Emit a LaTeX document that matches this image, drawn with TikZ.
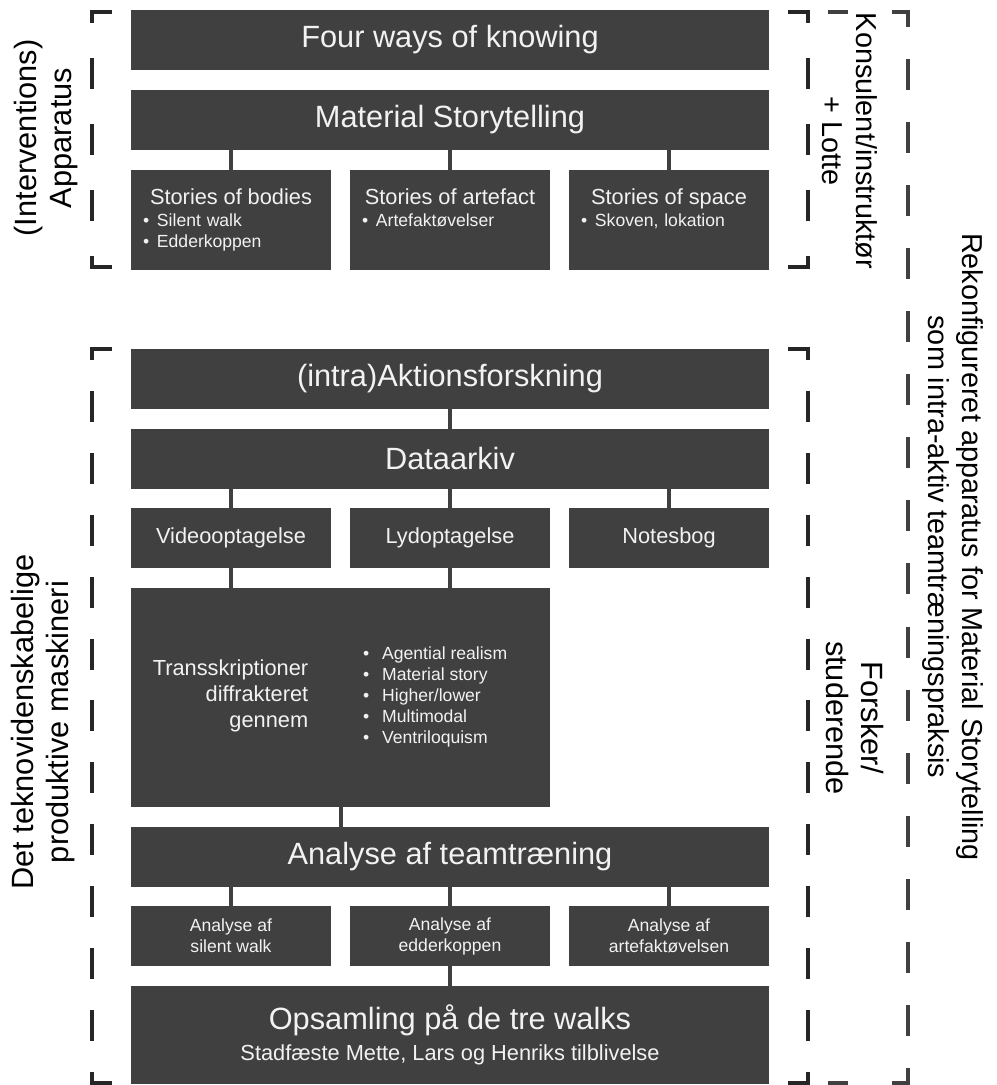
\documentclass[tikz,border=0pt]{standalone}
\usepackage{fontspec}
\setmainfont{Liberation Sans}
\definecolor{boxgrey}{HTML}{404040}
\definecolor{boxtext}{HTML}{F2F2F2}
\definecolor{markgrey}{HTML}{262626}
\newcommand{\bigtxt}{\fontsize{17.5}{20}\selectfont}
\newcommand{\sidetxt}{\fontsize{16.4}{19.5}\selectfont}
\newcommand{\midtxt}{\fontsize{12.4}{14.8}\selectfont}
\newcommand{\smtxt}{\fontsize{10}{12}\selectfont}
\newcommand{\itm}[1]{\makebox[2.8mm][l]{\textbullet}#1}
\newcommand{\ditm}[1]{\makebox[3.8mm][l]{\textbullet}#1}

\begin{document}
\begin{tikzpicture}
  [x=0.2mm,y=-0.2mm,
   box/.style={fill=boxgrey,text=boxtext,inner sep=0pt,align=center},
   wide/.style={box,minimum width=127.6mm,minimum height=12mm,font=\bigtxt},
   small/.style={box,minimum width=40mm,minimum height=12mm},
   story/.style={box,align=left,text width=35.2mm,inner xsep=2.4mm,
                 text height=6.8mm,text depth=13.2mm},
   side/.style={align=center,font=\bigtxt,inner sep=0pt},
   link/.style={draw=boxgrey,line width=0.8mm},
   bracket/.style={draw=markgrey,line width=0.8mm,dash pattern=on 6.2mm off #1}]
  \useasboundingbox (0,0) rectangle (997,1085);

  % upper part: interventions
  \node[wide] (four) at (450,40)  {Four ways of knowing};
  \node[wide] (mat)  at (450,120) {Material Storytelling};
  \node[story] (bodies) at (231,220)
    {{\centering\midtxt Stories of bodies\par}\vspace{1pt}\smtxt
     \itm{Silent walk}\par\itm{Edderkoppen}};
  \node[story] (artefact) at (450,220)
    {{\centering\midtxt Stories of artefact\par}\vspace{1pt}\smtxt
     \itm{Artefaktøvelser}};
  \node[story] (space) at (669,220)
    {{\centering\midtxt Stories of space\par}\vspace{1pt}\smtxt
     \itm{Skoven, lokation}};
\foreach \kid in {bodies,artefact,space}
    \draw[link] (\kid.north) -- (\kid.north |- mat.south);

  % lower part: research
  \node[wide] (aktion) at (450,379) {(intra)Aktionsforskning};
  \node[wide] (data)   at (450,459) {Dataarkiv};
  \node[small,font=\midtxt] (video) at (231,538) {Videooptagelse};
  \node[small,font=\midtxt] (lyd)   at (450,538) {Lydoptagelse};
  \node[small,font=\midtxt] (notes) at (669,538) {Notesbog};
  \node[box,minimum width=83.8mm,minimum height=43.8mm] (trans) at (340.5,697.5)
    {{\midtxt\begin{tabular}{@{}r@{}}Transskriptioner\\diffrakteret\\gennem\end{tabular}}%
     \hspace{11mm}%
     {\smtxt\begin{tabular}{@{}l@{}}\ditm{Agential realism}\\\ditm{Material story}\\
       \ditm{Higher/lower}\\\ditm{Multimodal}\\\ditm{Ventriloquism}\end{tabular}}%
     \hspace{4.2mm}};
  \node[wide] (analyse) at (450,857) {Analyse af teamtræning};
  \node[small,font=\smtxt] (asilent) at (231,936) {Analyse af\\silent walk};
  \node[small,font=\smtxt] (aedder)  at (450,936) {Analyse af\\edderkoppen};
  \node[small,font=\smtxt] (aartef)  at (669,936) {Analyse af\\artefaktøvelsen};
  \node[box,minimum width=127.6mm,minimum height=19.6mm] (opsaml) at (450,1035)
    {{\bigtxt Opsamling på de tre walks}\\[1.5mm]
     {\midtxt Stadfæste Mette, Lars og Henriks tilblivelse}};
  \draw[link] (aktion.south) -- (data.north);
\foreach \kid in {video,lyd,notes}
    \draw[link] (\kid.north) -- (\kid.north |- data.south);
\foreach \kid in {video,lyd}
    \draw[link] (\kid.south) -- (\kid.south |- trans.north);
  \draw[link] (trans.south) -- (trans.south |- analyse.north);
\foreach \kid in {asilent,aedder,aartef}
    \draw[link] (\kid.north) -- (\kid.north |- analyse.south);
  \draw[link] (aedder.south) -- (aedder.south |- opsaml.north);

  % brackets
  \draw[bracket=7mm] (112,12) -- (92,12) -- (92,267) -- (112,267);
  \draw[bracket=7mm] (788,12) -- (808,12) -- (808,267) -- (788,267);
  \draw[bracket=6.18mm] (112,349) -- (92,349) -- (92,1083) -- (112,1083);
  \draw[bracket=6.18mm] (788,349) -- (808,349) -- (808,1083) -- (788,1083);
  \draw[bracket=6.41mm,draw=boxgrey] (892,12) -- (908,12) -- (908,1083) -- (892,1083);
  \draw[bracket=6.41mm,draw=boxgrey] (828,12) -- (848,12);
  \draw[bracket=6.41mm,draw=boxgrey] (828,1083) -- (848,1083);

  % side labels
  \node[side,rotate=90]  (interv)  at (46,138)  {(Interventions)\\Apparatus};
  \node[side,rotate=90]  (teknov)  at (43,722)  {Det teknovidenskabelige\\produktive maskineri};
  \node[side,rotate=-90,font=\sidetxt] (konsul)  at (850,141) {Konsulent/instruktør\\+ Lotte};
  \node[side,rotate=-90] (forsker) at (855,718) {Forsker/\\studerende};
  \node[side,rotate=-90,font=\sidetxt] (rekon)   at (953,547)
    {Rekonfigureret apparatus for Material Storytelling\\som intra-aktiv teamtræningspraksis};

\end{tikzpicture}
\end{document}
